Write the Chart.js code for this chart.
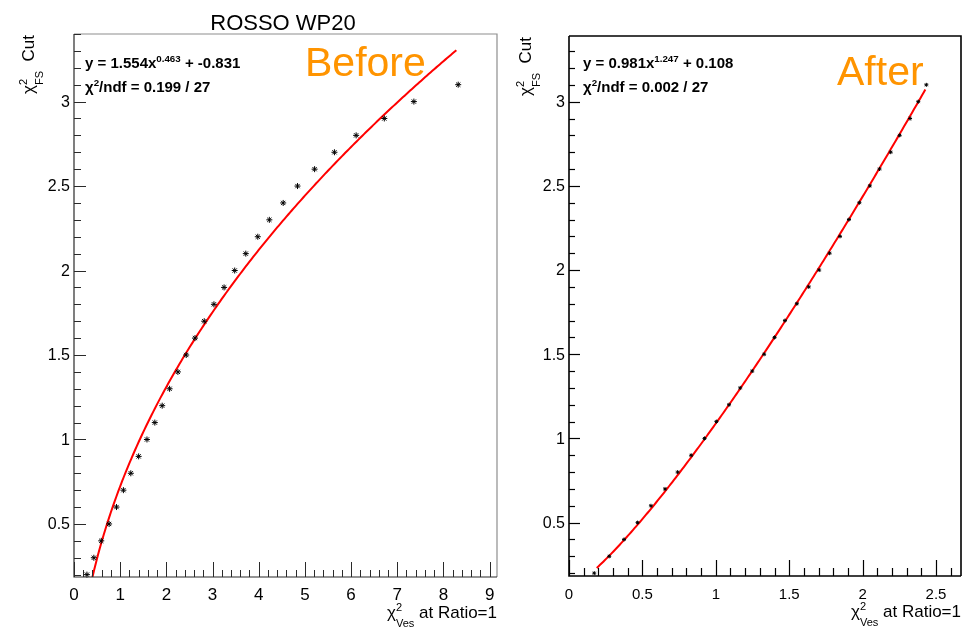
<!DOCTYPE html>
<html>
<head>
<meta charset="utf-8">
<script src="https://cdn.jsdelivr.net/npm/chart.js@4.4.1/dist/chart.umd.min.js"></script>
<style>
  html, body { margin: 0; padding: 0; background: #fff; }
  #wrap { position: relative; width: 975px; height: 627px; overflow: hidden; }
  canvas { position: absolute; top: 0; }
  #before { left: 0; }
  #after { left: 505px; }
</style>
</head>
<body>
<div id="wrap">
  <canvas id="before" width="505" height="627"></canvas>
  <canvas id="after" width="470" height="627"></canvas>
</div>
<script>
// chi2 cut on the FS side (same cut values for both panels)
const fsCuts = [0.2, 0.3, 0.4, 0.5, 0.6, 0.7, 0.8, 0.9, 1.0, 1.1,
                1.2, 1.3, 1.4, 1.5, 1.6, 1.7, 1.8, 1.9, 2.0, 2.1,
                2.2, 2.3, 2.4, 2.5, 2.6, 2.7, 2.8, 2.9, 3.0, 3.1];

// chi2 on the Ves side giving ratio = 1, before and after
const vesBefore = [0.28, 0.43, 0.59, 0.76, 0.92, 1.07, 1.23, 1.40, 1.58, 1.75,
                   1.91, 2.07, 2.25, 2.43, 2.62, 2.82, 3.03, 3.25, 3.48, 3.72,
                   3.98, 4.23, 4.53, 4.84, 5.21, 5.64, 6.11, 6.72, 7.36, 8.32];
const vesAfter = [0.172, 0.274, 0.375, 0.467, 0.558, 0.654, 0.740, 0.832, 0.923, 1.004,
                  1.090, 1.166, 1.248, 1.329, 1.400, 1.471, 1.552, 1.633, 1.704, 1.775,
                  1.846, 1.907, 1.978, 2.049, 2.115, 2.191, 2.252, 2.323, 2.379, 2.434];

// power-law fits y = a * x^b + c
const fitBefore = [1.554, 0.463, -0.831];
const fitAfter = [0.981, 1.247, 0.108];
const fitRangeBefore = [0.28, 8.28];
const fitRangeAfter = [0.189, 2.427];
const chi2Before = ['0.199', '27'];
const chi2After = ['0.002', '27'];

// tick labels
const xTicksBefore = ['0', '1', '2', '3', '4', '5', '6', '7', '8', '9'];
const xTicksAfter = ['0', '0.5', '1', '1.5', '2', '2.5'];
const yTicks = ['0.5', '1', '1.5', '2', '2.5', '3'];

const FONT = '"Liberation Sans", Arial, Helvetica, sans-serif';

function fitCurve(p, range) {
  const pts = [];
  const n = 200;
  for (let i = 0; i <= n; i++) {
    const x = range[0] + (range[1] - range[0]) * i / n;
    pts.push({ x: x, y: p[0] * Math.pow(x, p[1]) + p[2] });
  }
  return pts;
}

function fmt(v, d) {
  return v.toFixed(d);
}

// draw text made of segments; a 'sub' right after a 'sup' is stacked under it
function richWidth(ctx, segs, size, bold) {
  let w = 0, lastSup = 0;
  segs.forEach(s => {
    const sz = (s.sup || s.sub) ? size * 0.65 : size;
    ctx.font = (bold ? 'bold ' : '') + sz + 'px ' + FONT;
    const sw = ctx.measureText(s.t).width;
    if (s.sub && lastSup) { w += Math.max(0, sw - lastSup); lastSup = 0; }
    else { w += sw; lastSup = s.sup ? sw : 0; }
  });
  return w;
}

function richText(ctx, segs, x, y, size, bold, alignRight) {
  if (alignRight) x -= richWidth(ctx, segs, size, bold);
  let cx = x, supX = null;
  ctx.textAlign = 'left';
  ctx.textBaseline = 'alphabetic';
  segs.forEach(s => {
    const sz = (s.sup || s.sub) ? size * 0.65 : size;
    ctx.font = (bold ? 'bold ' : '') + sz + 'px ' + FONT;
    const sw = ctx.measureText(s.t).width;
    if (s.sup) {
      ctx.fillText(s.t, cx, y - size * 0.4);
      supX = cx; cx += sw;
    } else if (s.sub) {
      const sx = supX !== null ? supX : cx;
      ctx.fillText(s.t, sx, y + size * 0.5);
      cx = Math.max(cx, sx + sw);
      supX = null;
    } else {
      ctx.fillText(s.t, cx, y);
      cx += sw; supX = null;
    }
  });
}

// ROOT-like frame: inward ticks on the left and bottom axes, labels, titles
const rootFrame = {
  id: 'rootFrame',
  afterDraw(chart, args, o) {
    const ctx = chart.ctx;
    const a = chart.chartArea;
    const xs = chart.scales.x, ys = chart.scales.y;
    ctx.save();

    // box
    ctx.lineWidth = o.lineWidth;
    ctx.strokeStyle = o.boxColor;
    ctx.beginPath();
    ctx.moveTo(a.left, a.top); ctx.lineTo(a.right, a.top); ctx.lineTo(a.right, a.bottom);
    ctx.stroke();
    ctx.strokeStyle = o.axisColor;
    ctx.beginPath();
    ctx.moveTo(a.left, a.top); ctx.lineTo(a.left, a.bottom); ctx.lineTo(a.right, a.bottom);
    ctx.stroke();

    // x ticks
    ctx.lineWidth = o.tickWidth;
    const eps = 1e-6;
    for (let v = 0; v <= xs.max + eps; v += o.xMinor) {
      const val = Math.round(v * 1000) / 1000;
      if (val < xs.min - eps) continue;
      const major = Math.abs(val / o.xMajor - Math.round(val / o.xMajor)) < 1e-4;
      const px = Math.round(xs.getPixelForValue(val)) + 0.5;
      const len = major ? o.majorLen : o.minorLen;
      ctx.beginPath(); ctx.moveTo(px, a.bottom); ctx.lineTo(px, a.bottom - len); ctx.stroke();
    }
    // y ticks
    for (let v = 0; v <= ys.max + eps; v += o.yMinor) {
      const val = Math.round(v * 1000) / 1000;
      if (val < ys.min - eps) continue;
      const major = Math.abs(val / o.yMajor - Math.round(val / o.yMajor)) < 1e-4;
      const py = Math.round(ys.getPixelForValue(val)) + 0.5;
      const len = major ? o.yMajorLen : o.yMinorLen;
      ctx.beginPath(); ctx.moveTo(a.left, py); ctx.lineTo(a.left + len, py); ctx.stroke();
    }

    // tick labels
    ctx.fillStyle = '#000';
    ctx.font = o.xLabelSize + 'px ' + FONT;
    ctx.textAlign = 'center';
    ctx.textBaseline = 'alphabetic';
    o.xLabels.forEach(t => {
      ctx.fillText(t, xs.getPixelForValue(parseFloat(t)), o.xLabelBase);
    });
    ctx.font = o.yLabelSize + 'px ' + FONT;
    ctx.textAlign = 'right';
    ctx.textBaseline = 'middle';
    o.yLabels.forEach(t => {
      ctx.fillText(t, a.left - 4, ys.getPixelForValue(parseFloat(t)) + 1);
    });

    // axis titles
    richText(ctx, [{ t: 'χ' }, { t: '2', sup: true }, { t: 'Ves', sub: true }, { t: ' at Ratio=1' }],
      a.right, o.xTitleBase, 17, false, true);
    ctx.save();
    ctx.translate(o.yTitleX, a.top + 1);
    ctx.rotate(-Math.PI / 2);
    richText(ctx, [{ t: 'χ' }, { t: '2', sup: true }, { t: 'FS', sub: true }, { t: '  Cut' }],
      0, 0, 17, false, true);
    ctx.restore();

    // fit result
    const p = o.fit;
    richText(ctx, [{ t: 'y = ' + fmt(p[0], 3) + 'x' }, { t: fmt(p[1], 3), sup: true }, { t: ' + ' + fmt(p[2], 3) }],
      a.left + o.fitDx, 68, 15, true, false);
    richText(ctx, [{ t: 'χ' }, { t: '2', sup: true }, { t: '/ndf = ' + o.chi2[0] + ' / ' + o.chi2[1] }],
      a.left + o.fitDx, 92, 15, true, false);

    // panel tag
    ctx.fillStyle = '#ff9400';
    ctx.font = '41px ' + FONT;
    ctx.textAlign = 'left';
    ctx.textBaseline = 'alphabetic';
    ctx.fillText(o.tag, o.tagX, o.tagY);

    if (o.title) {
      ctx.fillStyle = '#000';
      ctx.font = '22px ' + FONT;
      ctx.textAlign = 'center';
      ctx.fillText(o.title, o.titleX, 30);
    }
    ctx.restore();
  }
};

function makePanel(id, ves, fit, range, opts) {
  const pts = ves.map((x, i) => ({ x: x, y: fsCuts[i] }));
  return new Chart(document.getElementById(id), {
    type: 'scatter',
    data: {
      datasets: [{
        data: pts,
        pointStyle: 'star',
        pointRadius: opts.markerSize,
        borderColor: '#000',
        backgroundColor: '#000',
        borderWidth: opts.markerWidth,
        clip: false
      }, {
        data: fitCurve(fit, range),
        showLine: true,
        pointRadius: 0,
        borderColor: '#ff0000',
        borderWidth: 2,
        clip: 0
      }]
    },
    options: {
      responsive: false,
      animation: false,
      events: [],
      layout: { padding: opts.padding },
      plugins: {
        legend: { display: false },
        tooltip: { enabled: false },
        rootFrame: Object.assign({ fit: fit }, opts.frame)
      },
      scales: {
        x: { type: 'linear', min: opts.xRange[0], max: opts.xRange[1], display: false },
        y: { type: 'linear', min: opts.yRange[0], max: opts.yRange[1], display: false }
      }
    },
    plugins: [rootFrame]
  });
}

makePanel('before', vesBefore, fitBefore, fitRangeBefore, {
  markerSize: 3, markerWidth: 1,
  padding: { left: 74, right: 8, top: 34, bottom: 50 },
  xRange: [0, 9.16],
  yRange: [0.186, 3.40],
  frame: {
    lineWidth: 1.2, boxColor: '#8e8e8e', axisColor: '#2a2a2a', tickWidth: 1,
    xMinor: 0.2, xMajor: 1, yMinor: 0.1, yMajor: 0.5,
    majorLen: 15, minorLen: 7, yMajorLen: 12, yMinorLen: 7,
    xLabels: xTicksBefore, yLabels: yTicks,
    xLabelSize: 17, yLabelSize: 16, xLabelBase: 600, xTitleBase: 618,
    yTitleX: 34, fitDx: 11, chi2: chi2Before,
    tag: 'Before', tagX: 305, tagY: 76,
    title: 'ROSSO WP20', titleX: 283
  }
});

makePanel('after', vesAfter, fitAfter, fitRangeAfter, {
  markerSize: 2, markerWidth: 1,
  padding: { left: 64, right: 14, top: 36, bottom: 51 },
  xRange: [0, 2.67],
  yRange: [0.183, 3.39],
  frame: {
    lineWidth: 1.6, boxColor: '#000', axisColor: '#000', tickWidth: 1.2,
    xMinor: 0.1, xMajor: 0.5, yMinor: 0.1, yMajor: 0.5,
    majorLen: 16, minorLen: 8, yMajorLen: 11, yMinorLen: 6,
    xLabels: xTicksAfter, yLabels: yTicks,
    xLabelSize: 15, yLabelSize: 16, xLabelBase: 599, xTitleBase: 617,
    yTitleX: 26, fitDx: 14, chi2: chi2After,
    tag: 'After', tagX: 332, tagY: 85,
    title: null
  }
});
</script>
</body>
</html>
